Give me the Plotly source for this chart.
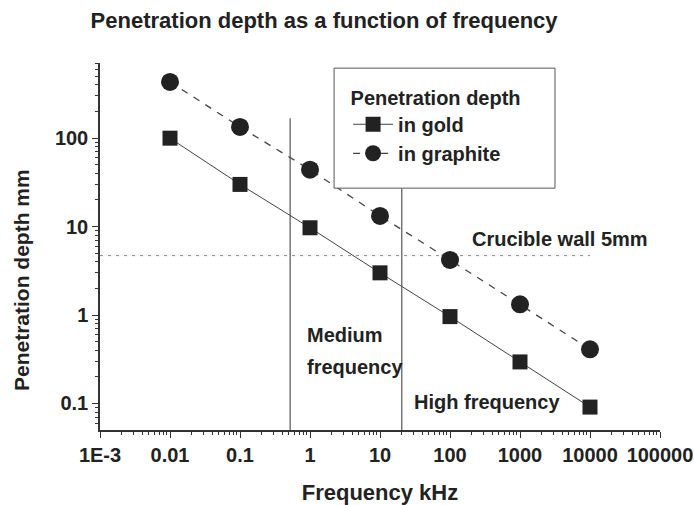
import plotly.graph_objects as go

# Data
freq_khz = [0.01, 0.1, 1, 10, 100, 1000, 10000]
depth_gold = [100, 30, 9.7, 3.0, 0.96, 0.295, 0.091]
depth_graphite = [433, 134, 44, 13.2, 4.2, 1.32, 0.41]
medium_band = [0.52, 20.5]          # kHz boundaries of medium-frequency band
medium_line_tops = [168, 27]        # upper ends of the boundary lines (mm)
crucible_wall = 4.7                 # mm
crucible_x = [0.001, 10000]
x_tickvals = [0.001, 0.01, 0.1, 1, 10, 100, 1000, 10000, 100000]
x_ticktext = ["1E-3", "0.01", "0.1", "1", "10", "100", "1000", "10000", "100000"]
y_tickvals = [0.1, 1, 10, 100]
y_ticktext = ["0.1", "1", "10", "100"]
y_min = 0.05

x_minor = [m * 10.0 ** e for e in range(-3, 5) for m in range(2, 10)]
y_minor = [m * 10.0 ** e for e in range(-2, 3) for m in range(2, 10)]

INK = "#222222"
FONT = "Liberation Sans, Arial, sans-serif"

fig = go.Figure()

# Crucible wall horizontal line
fig.add_trace(go.Scatter(
    x=crucible_x, y=[crucible_wall, crucible_wall], mode="lines",
    line=dict(color="#8a8a8a", width=1, dash="3px,5px"),
    showlegend=False, hoverinfo="skip"))

# Medium frequency band boundaries
for xb, yt in zip(medium_band, medium_line_tops):
    fig.add_trace(go.Scatter(
        x=[xb, xb], y=[y_min, yt], mode="lines",
        line=dict(color="#333333", width=1),
        showlegend=False, hoverinfo="skip"))

fig.add_trace(go.Scatter(
    x=freq_khz, y=depth_gold, mode="lines+markers", name="<b>in gold</b>",
    line=dict(color="#444444", width=1),
    marker=dict(symbol="square", size=15, color=INK)))

fig.add_trace(go.Scatter(
    x=freq_khz, y=depth_graphite, mode="lines+markers", name="<b>in graphite</b>",
    line=dict(color="#444444", width=1.3, dash="7px,7px"),
    marker=dict(symbol="circle", size=18, color=INK)))

annos = [
    dict(text="<b>Crucible wall 5mm</b>", x=2.286, y=0.859, xanchor="left"),
    dict(text="<b>Medium</b>", x=-0.071, y=-0.226, xanchor="left"),
    dict(text="<b>frequency</b>", x=-0.071, y=-0.588, xanchor="left"),
    dict(text="<b>High frequency</b>", x=1.457, y=-0.983, xanchor="left"),
]
for a in annos:
    fig.add_annotation(xref="x", yref="y", showarrow=False, yanchor="middle",
                       font=dict(size=20, color=INK, family=FONT), **a)

# y-axis title as rotated annotation (positioned like the reference)
fig.add_annotation(xref="paper", yref="paper", x=-0.139, y=0.409,
                   text="<b>Penetration depth mm</b>", textangle=-90,
                   showarrow=False, xanchor="center", yanchor="middle",
                   font=dict(size=21, color=INK, family=FONT))

# legend frame (white box drawn above the plot lines)
fig.add_shape(type="rect", xref="paper", yref="paper",
              x0=0.418, x1=0.8125, y0=0.659, y1=0.986, layer="above",
              fillcolor="white", line=dict(color="#555555", width=1))

fig.update_layout(
    width=694, height=505,
    margin=dict(l=100, r=34, t=63, b=75, autoexpand=False),
    paper_bgcolor="white", plot_bgcolor="white",
    font=dict(family=FONT, color=INK),
    title=dict(text="<b>Penetration depth as a function of frequency</b>",
               x=0.467, xanchor="center", y=0.96, yanchor="middle",
               font=dict(size=22, color=INK, family=FONT)),
    legend=dict(
        title=dict(text="<b>Penetration depth</b>", side="top center",
                   font=dict(size=20, color=INK, family=FONT)),
        x=0.443, y=0.957, xanchor="left", yanchor="top",
        bgcolor="rgba(0,0,0,0)", borderwidth=0,
        font=dict(size=20, color=INK, family=FONT),
        itemwidth=40,
    ),
    showlegend=True,
)

fig.update_xaxes(
    type="log", range=[-3, 5], automargin=False,
    tickvals=x_tickvals, ticktext=["<b>%s</b>" % t for t in x_ticktext],
    tickfont=dict(size=20, color=INK, family=FONT),
    ticks="outside", ticklen=6, tickwidth=1.2, tickcolor="#333333",
    showline=True, linecolor="#333333", linewidth=1.5, mirror=False,
    showgrid=False, zeroline=False,
    minor=dict(tickmode="array", tickvals=x_minor, ticks="outside", ticklen=3,
               tickwidth=1, tickcolor="#333333", showgrid=False),
    title=dict(text="<b>Frequency kHz</b>", font=dict(size=22, color=INK, family=FONT), standoff=22),
)
fig.update_yaxes(
    type="log", range=[-1.3, 2.85], automargin=False,
    tickvals=y_tickvals, ticktext=["<b>%s</b>" % t for t in y_ticktext],
    tickfont=dict(size=20, color=INK, family=FONT),
    ticks="outside", ticklen=6, tickwidth=1.2, tickcolor="#333333",
    showline=True, linecolor="#333333", linewidth=1.5, mirror=False,
    showgrid=False, zeroline=False,
    minor=dict(tickmode="array", tickvals=y_minor, ticks="outside", ticklen=3,
               tickwidth=1, tickcolor="#333333", showgrid=False),
)

fig.write_html("out.html")
